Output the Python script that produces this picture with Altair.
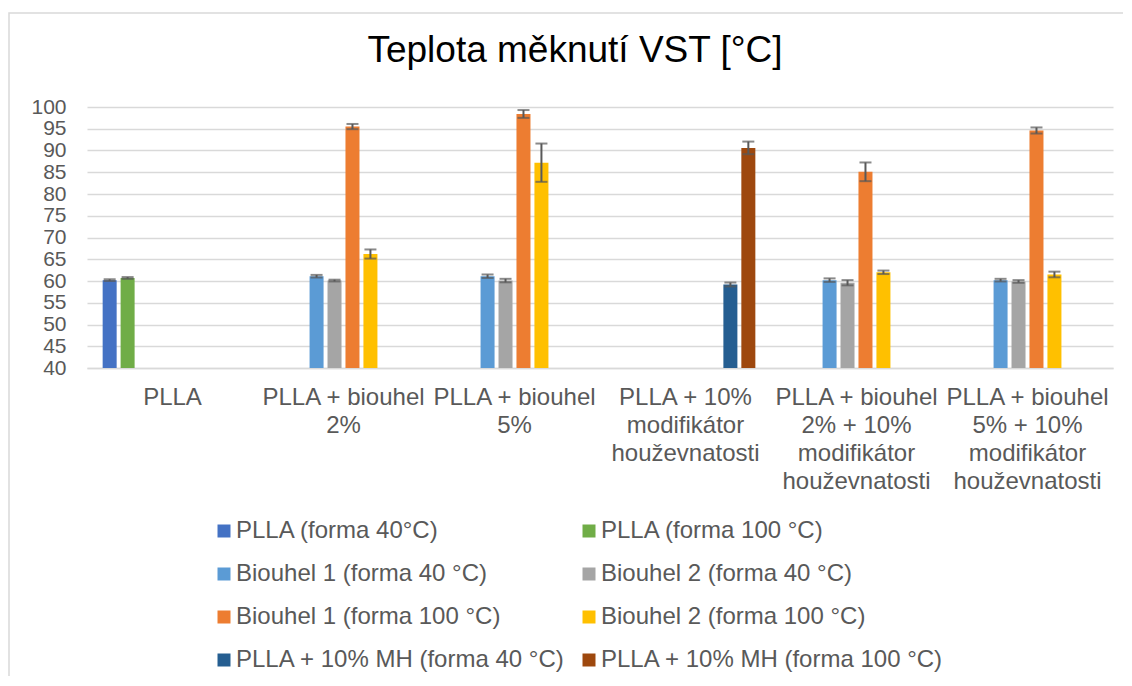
import altair as alt
import pandas as pd

title_text = "Teplota měknutí VST [°C]"

categories = [
    "PLLA",
    "PLLA + biouhel|2%",
    "PLLA + biouhel|5%",
    "PLLA + 10%|modifikátor|houževnatosti",
    "PLLA + biouhel|2% + 10%|modifikátor|houževnatosti",
    "PLLA + biouhel|5% + 10%|modifikátor|houževnatosti",
]

series = [
    "PLLA (forma 40°C)",
    "PLLA (forma 100 °C)",
    "Biouhel 1 (forma 40 °C)",
    "Biouhel 2 (forma 40 °C)",
    "Biouhel 1 (forma 100 °C)",
    "Biouhel 2 (forma 100 °C)",
    "PLLA + 10% MH (forma 40 °C)",
    "PLLA + 10% MH (forma 100 °C)",
]

colors = ["#4472C4", "#70AD47", "#5B9BD5", "#A5A5A5", "#ED7D31", "#FFC000", "#255E91", "#9E480E"]

pll_40 = [60.2, None, None, None, None, None]
pll_100 = [60.7, None, None, None, None, None]
b1_40 = [None, 61.1, 61.1, None, 60.2, 60.2]
b2_40 = [None, 60.1, 60.1, None, 59.6, 59.9]
b1_100 = [None, 95.5, 98.4, None, 85.1, 94.6]
b2_100 = [None, 66.2, 87.2, None, 62.0, 61.5]
mh_40 = [None, None, None, 59.2, None, None]
mh_100 = [None, None, None, 90.6, None, None]

err_pll_40 = [0.2, None, None, None, None, None]
err_pll_100 = [0.2, None, None, None, None, None]
err_b1_40 = [None, 0.3, 0.4, None, 0.4, 0.3]
err_b2_40 = [None, 0.2, 0.4, None, 0.6, 0.3]
err_b1_100 = [None, 0.6, 0.9, None, 2.15, 0.7]
err_b2_100 = [None, 1.05, 4.4, None, 0.4, 0.65]
err_mh_40 = [None, None, None, 0.45, None, None]
err_mh_100 = [None, None, None, 1.45, None, None]

values = [pll_40, pll_100, b1_40, b2_40, b1_100, b2_100, mh_40, mh_100]
errors = [err_pll_40, err_pll_100, err_b1_40, err_b2_40, err_b1_100, err_b2_100, err_mh_40, err_mh_100]

y_ticks = list(range(40, 101, 5))

rows = []
for s, vals, errs in zip(series, values, errors):
    for c, v, e in zip(categories, vals, errs):
        if v is None:
            continue
        rows.append({"cat": c, "series": s, "value": v, "lo": v - e, "hi": v + e})
df = pd.DataFrame(rows)

FONT = "Liberation Sans"
W, H = 1026, 261

x_axis = alt.Axis(
    title=None,
    labelAngle=0,
    labelExpr="split(datum.label, '|')",
    labelFontSize=24,
    labelFont=FONT,
    labelColor="#595959",
    labelPadding=17,
    labelLineHeight=28,
    labelLimit=400,
    ticks=False,
    domain=True,
    domainColor="#D9D9D9",
    domainWidth=1.5,
    grid=False,
)
y_axis = alt.Axis(
    title=None,
    values=y_ticks,
    labelFontSize=21,
    labelFont=FONT,
    labelColor="#595959",
    labelPadding=21,
    labelOverlap=False,
    ticks=False,
    domain=False,
    grid=True,
    gridColor="#D9D9D9",
    gridWidth=1.5,
)
x_scale = alt.Scale(paddingInner=0.16, paddingOuter=0.08)
xo_scale = alt.Scale(domain=series, paddingInner=0.22, paddingOuter=0.11)
y_scale = alt.Scale(domain=[40, 100], nice=False, zero=False)


def X():
    return alt.X("cat:N", sort=categories, scale=x_scale, axis=x_axis)


def XO():
    return alt.XOffset("series:N", sort=series, scale=xo_scale)


def Y(field):
    return alt.Y(field, scale=y_scale, axis=y_axis)


bars = alt.Chart(df).mark_bar().encode(
    x=X(),
    xOffset=XO(),
    y=Y("value:Q"),
    y2=alt.datum(40),
    color=alt.Color(
        "series:N",
        sort=series,
        scale=alt.Scale(domain=series, range=colors),
        legend=alt.Legend(
            title=None,
            orient="none",
            direction="horizontal",
            legendX=125,
            legendY=412,
            columns=2,
            columnPadding=11,
            rowPadding=19,
            symbolType="square",
            symbolSize=169,
            symbolStrokeWidth=0,
            labelFont=FONT,
            labelFontSize=24,
            labelColor="#595959",
            labelLimit=500,
            labelOffset=0,
            padding=0,
        ),
    ),
)

err_rule = alt.Chart(df).mark_rule(color="#595959", strokeWidth=2).encode(
    x=X(),
    xOffset=XO(),
    y=Y("lo:Q"),
    y2="hi:Q",
)
cap_lo = alt.Chart(df).mark_tick(color="#595959", thickness=2, size=12).encode(
    x=X(),
    xOffset=XO(),
    y=Y("lo:Q"),
)
cap_hi = alt.Chart(df).mark_tick(color="#595959", thickness=2, size=12).encode(
    x=X(),
    xOffset=XO(),
    y=Y("hi:Q"),
)

frame = alt.Chart(pd.DataFrame({"k": [0]})).mark_rect(
    filled=False, stroke="#D9D9D9", strokeWidth=1.5
).encode(
    x=alt.value(-78),
    x2=alt.value(W + 40),
    y=alt.value(-94),
    y2=alt.value(H + 400),
)

title = alt.Chart(pd.DataFrame({"t": [title_text]})).mark_text(
    font=FONT, fontSize=37, color="#000000", align="center", baseline="alphabetic"
).encode(
    text="t:N",
    x=alt.value(488),
    y=alt.value(-45),
)

chart = (
    alt.layer(frame, title, bars, err_rule, cap_lo, cap_hi)
    .properties(
        width=W,
        height=H,
        autosize=alt.AutoSizeParams(type="none"),
        padding={"left": 79, "top": 99, "right": 10, "bottom": 308},
    )
    .configure_view(stroke=None)
    .configure_axisY(labelOverlap=False)
)

chart.save("out.html", embed_options={"renderer": "svg", "actions": False})
